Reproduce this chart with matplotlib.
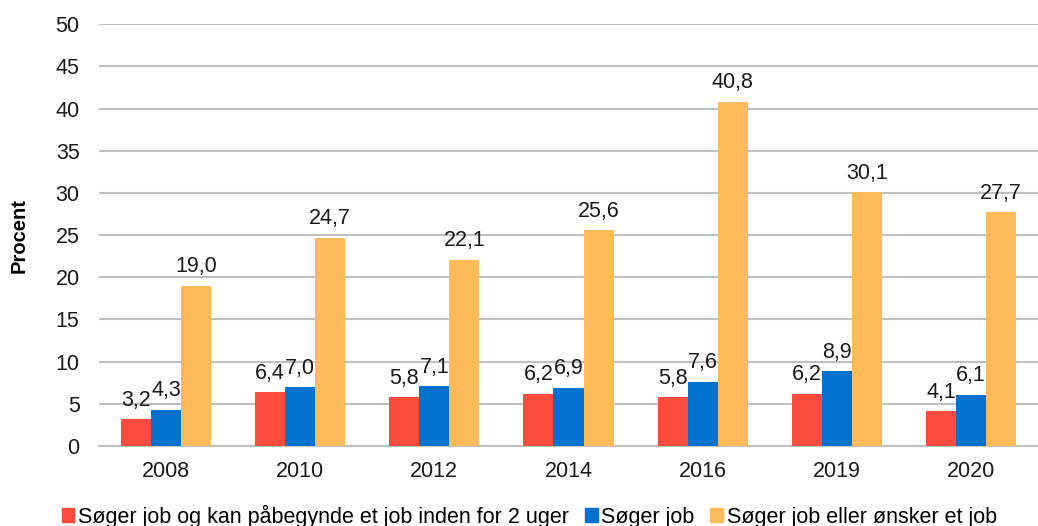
import numpy as np
import matplotlib
matplotlib.use("Agg")
import matplotlib.pyplot as plt
from matplotlib.patches import Patch

years = ["2008", "2010", "2012", "2014", "2016", "2019", "2020"]
kan_begynde = [3.2, 6.4, 5.8, 6.2, 5.8, 6.2, 4.1]
soeger_job = [4.3, 7.0, 7.1, 6.9, 7.6, 8.9, 6.1]
soeger_eller_oensker = [19.0, 24.7, 22.1, 25.6, 40.8, 30.1, 27.7]

series_names = ["Søger job og kan påbegynde et job inden for 2 uger",
                "Søger job",
                "Søger job eller ønsker et job"]
colors = ["#FA4B3C", "#0072CE", "#FFBA5A"]

plt.rcParams['font.family'] = ['Liberation Sans', 'DejaVu Sans']
fs = 15.5

fig = plt.figure(figsize=(10.38, 5.26), dpi=100)
ax = fig.add_axes([0.0954, 0.152, 0.9046, 0.802])

x = np.arange(len(years))
w = 0.224
for i, vals in enumerate([kan_begynde, soeger_job, soeger_eller_oensker]):
    pos = x + (i - 1) * w
    ax.bar(pos, vals, width=w, color=colors[i], zorder=3)
    for p, v in zip(pos, vals):
        ax.text(p, v + 1.0, f"{v:.1f}".replace(".", ","), ha="center", va="bottom",
                fontsize=fs, color="#1a1a1a")

ax.set_xlim(-0.5, len(years) - 0.5)
ax.set_ylim(0, 50)
ax.set_yticks(range(0, 51, 5))
ax.set_xticks(x)
ax.set_xticklabels(years)
ax.yaxis.grid(True, color="#C0C0C0", linewidth=1.5, zorder=0)
for s in ["top", "right", "left"]:
    ax.spines[s].set_visible(False)
ax.spines["bottom"].set_color("#C0C0C0")
ax.spines["bottom"].set_linewidth(1.5)
ax.tick_params(axis="both", length=0, labelsize=fs, colors="#1a1a1a")
ax.tick_params(axis="y", pad=14)
ax.tick_params(axis="x", pad=11)
ax.set_ylabel("Procent", fontsize=fs - 1, fontweight="bold")
ax.yaxis.set_label_coords(-0.075, 0.5)

handles = [Patch(color=c, label=n) for c, n in zip(colors, series_names)]
fig.legend(handles=handles, loc="center left", bbox_to_anchor=(0.051, 1 - 516 / 526),
           ncol=3, frameon=False, fontsize=fs, handlelength=0.6, handleheight=0.6,
           handletextpad=0.15, columnspacing=0.75, borderaxespad=0)

fig.savefig("out.png", dpi=100)
